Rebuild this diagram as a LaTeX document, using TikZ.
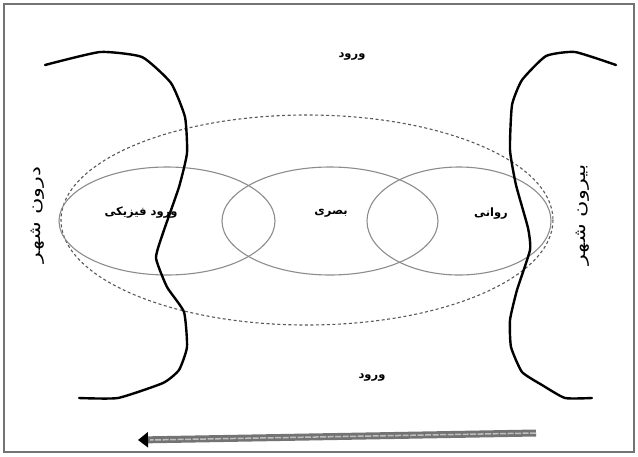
\documentclass[tikz,border=0pt]{standalone}
\usepackage{fontspec}
\newfontfamily\arabicfont[Script=Arabic,BoldFont={DejaVu Sans Bold}]{DejaVu Sans}
\TeXXeTstate=1
\usetikzlibrary{arrows.meta,calc}
\begin{document}
\begin{tikzpicture}[x=1pt,y=-1pt,
  fa/.style={font=\arabicfont\bfseries\fontsize{11.5}{13}\selectfont, inner sep=1pt},
  side/.style={font=\arabicfont\fontsize{16}{18}\selectfont, inner sep=1pt, rotate=90},
  wall/.style={line width=2.4pt, line join=round, line cap=round},
  zone/.style={draw=black!45, line width=1.1pt},
  outer/.style={draw=black!65, line width=1.1pt, dash pattern=on 3pt off 2.5pt},
  flow/.style={draw=black!55, line width=7pt, -{Triangle[length=10pt,width=15pt,black]}}]
\useasboundingbox (0,0) rectangle (638,456);
\draw[black!55, line width=2pt] (4,4) rectangle (634,452);
% zones
\draw[outer] (307,220) ellipse [x radius=246, y radius=105];
\draw[zone] (167,221) ellipse [x radius=108, y radius=54];
\draw[zone] (330,221) ellipse [x radius=108, y radius=54];
\draw[zone] (459,221) ellipse [x radius=92, y radius=54];
% city edges
\draw[wall] plot[smooth, tension=0.3] coordinates {(45,65) (100,52) (142,57) (171,83) (185,117) (187,153) (179,187) (163,233) (156,258) (167,287) (184,312) (187,347) (179,370) (163,383) (118,398) (79,398)};
\draw[wall] plot[smooth, tension=0.3] coordinates {(616,65) (575,52) (546,56) (522,80) (512,105) (510,150) (516,185) (528,228) (530,250) (517,290) (510,320) (511,347) (522,372) (542,385) (565,398) (592,398)};
% labels
\node[fa] (inTop) at (352,57) {\beginR ورود\endR};
\node[fa] (inBot) at (372,378) {\beginR ورود\endR};
\node[fa] (phys) at (141,213) {\beginR ورود فیزیکی\endR};
\node[fa] (visual) at (331,213) {\beginR بصری\endR};
\node[fa] (psych) at (491,214) {\beginR روانی\endR};
\node[side] (inside) at (38,215) {\scalebox{1.4}[1]{\beginR درون شهر\endR}};
\node[side] (outside) at (583,215) {\scalebox{1.4}[1]{\beginR بیرون شهر\endR}};
% direction arrow
\coordinate (aS) at (536,433);
\coordinate (aE) at (138,440);
\draw[flow] (aS) -- (aE);
\draw[black!25, line width=1.5pt, dash pattern=on 6pt off 1.5pt] (aS) -- ($(aE)+(12,0)$);
\end{tikzpicture}
\end{document}
